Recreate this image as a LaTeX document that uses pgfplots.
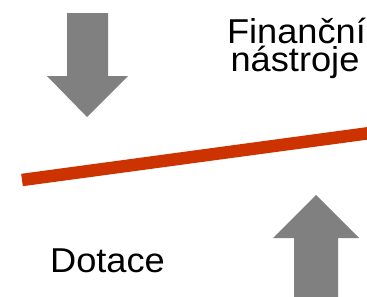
\documentclass[border=0pt]{standalone}
\usepackage{pgfplots}
\pgfplotsset{compat=1.18}
\usepackage{fontspec}
\setmainfont{Liberation Sans}
\definecolor{arrowgray}{HTML}{808080}
\definecolor{linered}{HTML}{CC3300}
\begin{document}
\begin{tikzpicture}
\begin{axis}[
  width=367pt, height=297pt, scale only axis,
  xmin=0, xmax=367, ymin=0, ymax=297, y dir=reverse,
  hide axis, clip=true,
]
% down arrow
\addplot[fill=arrowgray, draw=none] coordinates {
  (67,13) (108,13) (108,76) (128,76) (87,117) (47,76) (67,76)} -- cycle;
% up arrow
\addplot[fill=arrowgray, draw=none] coordinates {
  (294,300) (338,300) (338,238) (359,238) (316,195) (273,238) (294,238)} -- cycle;
% red line
\addplot[linered, line width=12.5pt] coordinates {(22,180) (370,133)};
\node[font=\fontsize{34.5}{38}\selectfont, xscale=1.05, anchor=base, inner sep=0pt] at (axis cs:296.5,43.3) {Finanční};
\node[font=\fontsize{34.5}{38}\selectfont, xscale=1.05, anchor=base, inner sep=0pt] at (axis cs:295,71.7) {nástroje};
\node[font=\fontsize{34.5}{38}\selectfont, xscale=1.05, anchor=base, inner sep=0pt] at (axis cs:107.5,272) {Dotace};
\end{axis}
\pgfresetboundingbox
\path (current axis.south west) rectangle (current axis.north east);
\end{tikzpicture}
\end{document}
